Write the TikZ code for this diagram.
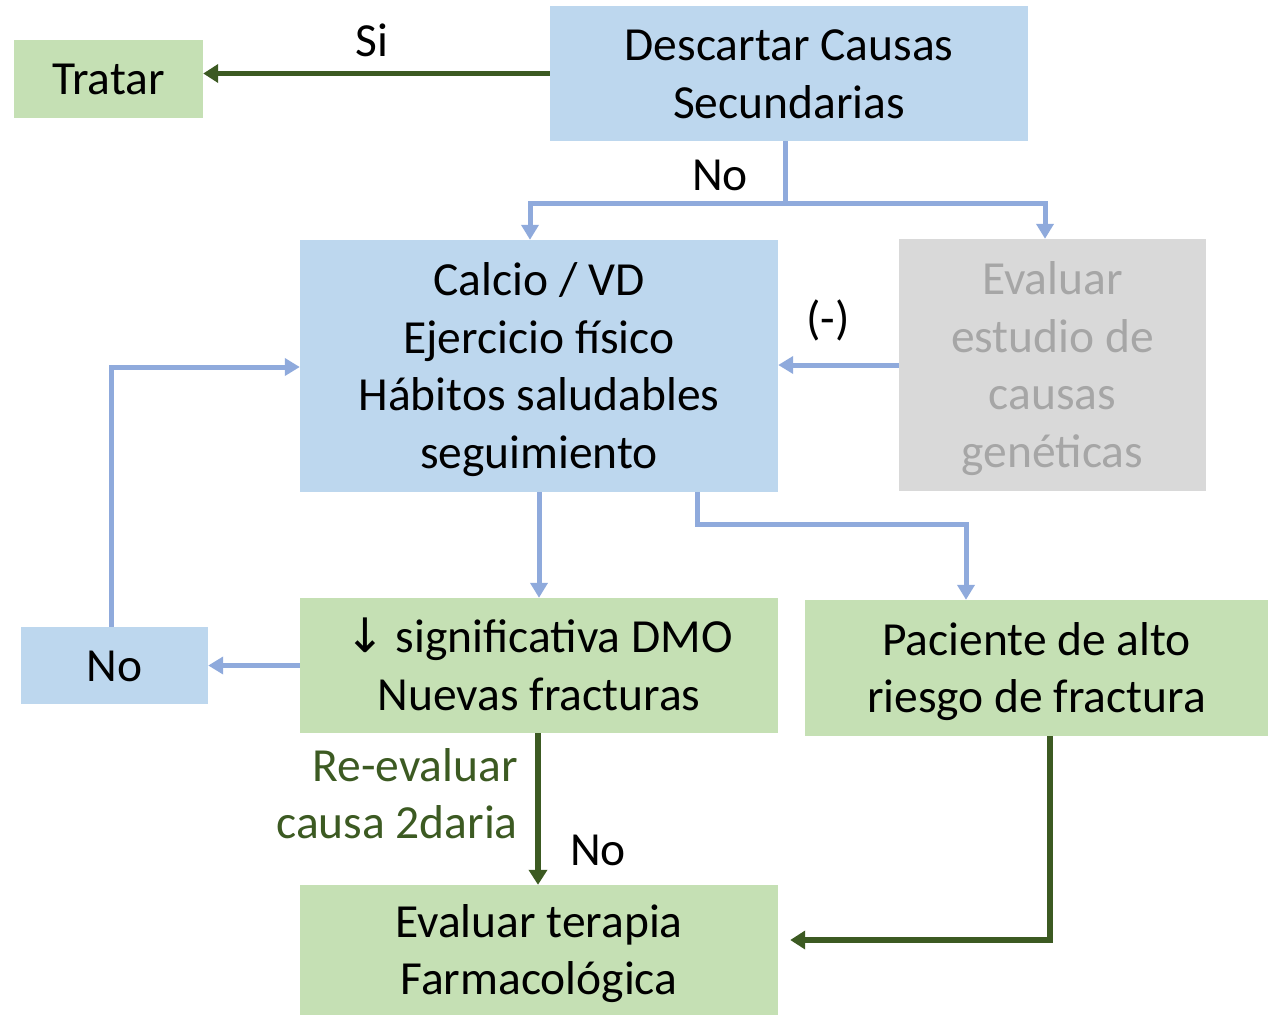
\documentclass[tikz,border=0pt]{standalone}
\usepackage{fontspec}
\setmainfont{Carlito}
\newfontfamily\symfont{DejaVu Sans}
\usetikzlibrary{arrows.meta}
\definecolor{bfill}{HTML}{BDD7EE}
\definecolor{gfill}{HTML}{C5E0B4}
\definecolor{grfill}{HTML}{D9D9D9}
\definecolor{grtext}{HTML}{A6A6A6}
\definecolor{bline}{HTML}{8FAADC}
\definecolor{gline}{HTML}{3C5A22}
\newcommand\ls{\rule[-13pt]{0pt}{57.5pt}}
\tikzset{
  box/.style={rectangle, inner sep=0pt, align=center, font=\fontsize{47.5}{57.5}\selectfont},
  bluebox/.style={box, fill=bfill},
  greenbox/.style={box, fill=gfill},
  graybox/.style={box, fill=grfill, text=grtext},
  lbl/.style={inner sep=0pt, font=\fontsize{47.5}{57.5}\selectfont},
  barrow/.style={draw=bline, line width=5pt, -{Triangle[length=15pt,width=17pt]}},
  bplain/.style={draw=bline, line width=5pt},
  garrow/.style={draw=gline, line width=5.5pt, -{Triangle[length=15pt,width=18pt]}},
}
\begin{document}
\begin{tikzpicture}[x=1pt,y=-1pt]
\useasboundingbox (0,0) rectangle (1268,1015);
\node[greenbox, minimum width=189pt, minimum height=78pt] (tratar) at (108.5,79) {\ls Tratar};
\node[bluebox, minimum width=478pt, minimum height=135pt] (desc) at (789,73.5) {\ls Descartar Causas\\\ls Secundarias};
\node[bluebox, minimum width=478pt, minimum height=252pt] (calcio) at (539,366) {\ls Calcio / VD\\\ls Ejercicio físico\\\ls Hábitos saludables\\\ls seguimiento};
\node[graybox, minimum width=307pt, minimum height=252pt] (eval) at (1052.5,365) {\ls Evaluar\\\ls estudio de\\\ls causas\\\ls genéticas};
\node[bluebox, minimum width=187pt, minimum height=77pt] (nobox) at (114.5,665.5) {\ls No};
\node[greenbox, minimum width=478pt, minimum height=135pt] (sig) at (539,665.5) {\ls{\symfont ↓} significativa DMO\\\ls Nuevas fracturas};
\node[greenbox, minimum width=463pt, minimum height=136pt] (pac) at (1036.5,668) {\ls Paciente de alto\\\ls riesgo de fractura};
\node[greenbox, minimum width=478pt, minimum height=130pt] (ter) at (539,950) {\ls Evaluar terapia\\\ls Farmacológica};

\node[lbl] (si) at (372,40) {Si};
\node[lbl] (no1) at (720,175) {No};
\node[lbl] (minus) at (828,320) {(-)};
\node[lbl] (no2) at (598,850) {No};
\node[lbl, align=right, anchor=east, text=gline] (reev) at (518,794) {\ls Re-evaluar\\\ls causa 2daria};

\coordinate (split) at (785,203);
\draw[garrow] (desc.west) -- (desc.west -| tratar.east);
\draw[bplain] (desc.south -| split) -- (split);
\draw[barrow] (split) -| (calcio.north -| 530,0);
\draw[barrow] (split) -| (eval.north -| 1045,0);
\draw[barrow] (eval.west) -- (calcio.east |- eval.west);
\draw[barrow] (calcio.south) -- (sig.north);
\draw[barrow] (calcio.south -| 697,0) |- (966,524) -- (pac.north -| 966,0);
\draw[barrow] (sig.west) -- (nobox.east |- sig.west);
\draw[barrow] (nobox.north -| 111,0) |- (calcio.west |- 0,367);
\draw[garrow] (sig.south -| 538,0) -- (ter.north -| 538,0);
\draw[garrow] (pac.south -| 1050,0) |- ([xshift=12pt]ter.east |- 0,940);
\end{tikzpicture}
\end{document}
